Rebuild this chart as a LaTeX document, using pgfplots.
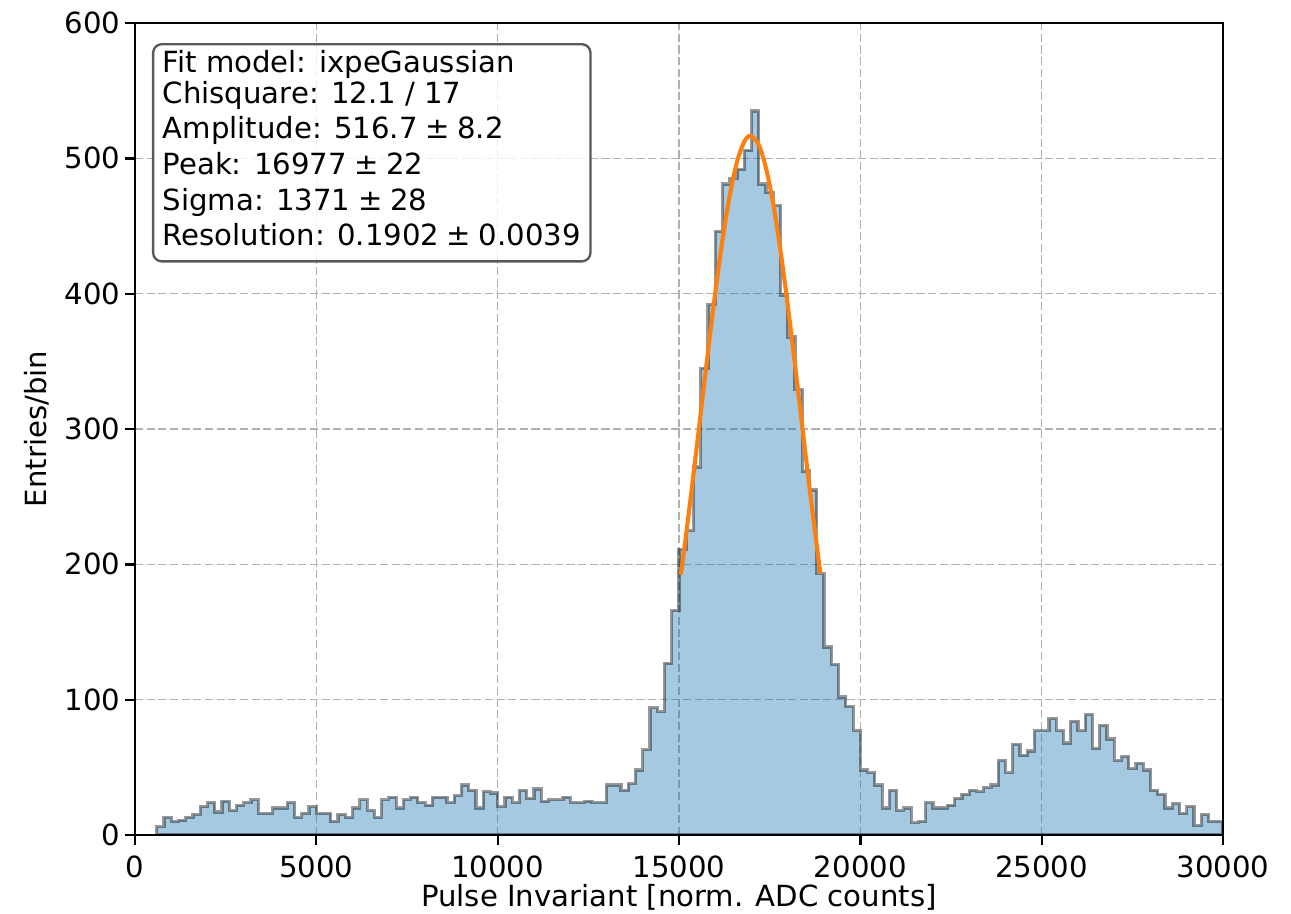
\documentclass[border=0pt]{standalone}
\usepackage{fontspec}
\setmainfont{DejaVu Sans}
\usepackage{pgfplots}
\usepackage{pgfplotstable}
\pgfplotsset{compat=1.18}
\definecolor{tabblue}{RGB}{31,119,180}
\definecolor{fitorange}{RGB}{255,127,14}
\definecolor{gridgray}{RGB}{176,176,176}

\pgfplotstableread{
x y
600 6
800 13
1000 10
1200 11
1400 13
1600 15
1800 21
2000 24
2200 17
2400 25
2600 18
2800 22
3000 24
3200 26
3400 16
3600 16
3800 20
4000 20
4200 24
4400 13
4600 16
4800 21
5000 16
5200 16
5400 10
5600 15
5800 13
6000 20
6200 26
6400 18
6600 13
6800 26
7000 28
7200 20
7400 26
7600 28
7800 24
8000 22
8200 28
8400 28
8600 24
8800 29
9000 37
9200 33
9400 20
9600 32
9800 31
10000 21
10200 28
10400 24
10600 33
10800 27
11000 34
11200 25
11400 26
11600 26
11800 28
12000 24
12200 24
12400 25
12600 24
12800 24
13000 37
13200 37
13400 33
13600 38
13800 48
14000 63
14200 94
14400 91
14600 127
14800 166
15000 211
15200 225
15400 272
15600 345
15800 392
16000 446
16200 481
16400 485
16600 492
16800 506
17000 535
17200 481
17400 475
17600 465
17800 399
18000 368
18200 329
18400 269
18600 255
18800 193
19000 139
19200 126
19400 102
19600 95
19800 77
20000 48
20200 46
20400 37
20600 20
20800 33
21000 18
21200 20
21400 9
21600 10
21800 24
22000 20
22200 20
22400 22
22600 27
22800 30
23000 33
23200 32
23400 35
23600 37
23800 55
24000 46
24200 67
24400 59
24600 62
24800 77
25000 77
25200 86
25400 77
25600 68
25800 84
26000 77
26200 89
26400 64
26600 81
26800 71
27000 55
27200 58
27400 49
27600 53
27800 48
28000 33
28200 30
28400 20
28600 23
28800 16
29000 21
29200 7
29400 15
29600 10
29800 10
30000 10
}\histdata

\begin{document}
\begin{tikzpicture}
\path[use as bounding box] (-46.3pt,-26.8pt) rectangle (396.5pt,286.4pt);
\begin{axis}[
  scale only axis, width=373.2pt, height=278.5pt,
  xmin=0, xmax=30000, ymin=0, ymax=600,
  xtick={0,5000,10000,15000,20000,25000,30000},
  ytick={0,100,200,300,400,500,600},
  scaled x ticks=false,
  /pgf/number format/1000 sep={},
  /pgf/number format/assume math mode=true,
  tick pos=left,
  tick align=outside, major tick length=3.5pt,
  tick style={black, line width=0.8pt},
  grid=major,
  grid style={gridgray, line width=0.5pt, dash pattern=on 2.8pt off 1.2pt},
  axis line style={line width=0.8pt},
  xlabel={Pulse Invariant [norm. ADC counts]},
  ylabel={Entries/bin},
  x label style={at={(axis description cs:0.5,0)}, anchor=base, yshift=-24.4pt},
  y label style={at={(axis description cs:-0.0900,0.5)}, anchor=center},
  label style={font=\fontsize{10}{12}\selectfont},
  tick label style={font=\fontsize{10}{12}\selectfont},
  xticklabel style={yshift=0pt},
  yticklabel style={xshift=2pt},
]
\addplot[const plot, fill=tabblue, fill opacity=0.4, draw=black, draw opacity=0.4, line width=1.1pt] table[x=x,y=y]{\histdata} \closedcycle;
\addplot[fitorange, line width=1.4pt, smooth] coordinates {
(15050,192.4) (15200,223.1) (15400,266.6) (15600,312.0) (15800,357.4)
(16000,400.8) (16200,440.0) (16400,472.9) (16600,497.5) (16800,512.4)
(16977,516.7) (17200,509.9) (17400,492.7) (17600,466.0) (17800,431.5)
(18000,391.1) (18200,347.1) (18400,301.5) (18600,256.4) (18800,213.5)
(18900,193.2)};
\draw[line width=0.8pt] (rel axis cs:0,0) rectangle (rel axis cs:1,1);
\node[draw=black!65, line width=0.8pt, rounded corners=3pt, fill=white, fill opacity=0.8, text opacity=1,
  anchor=north west, align=left, inner xsep=3.3pt, inner ysep=2pt,
  font=\fontsize{10}{12.2}\selectfont]
  at (rel axis cs:0.0156,0.9754)
  {Fit model: ixpeGaussian\\[-1.5pt]
   Chisquare: 12.1 / 17\\
   Amplitude: 516.7\hspace{2.6pt}±\hspace{2.6pt}8.2\\
   Peak: 16977\hspace{2.6pt}±\hspace{2.6pt}22\\
   Sigma: 1371\hspace{2.6pt}±\hspace{2.6pt}28\\
   Resolution: 0.1902\hspace{2.6pt}±\hspace{2.6pt}0.0039\rule[-3.4pt]{0pt}{3.4pt}};
\end{axis}
\end{tikzpicture}
\end{document}
